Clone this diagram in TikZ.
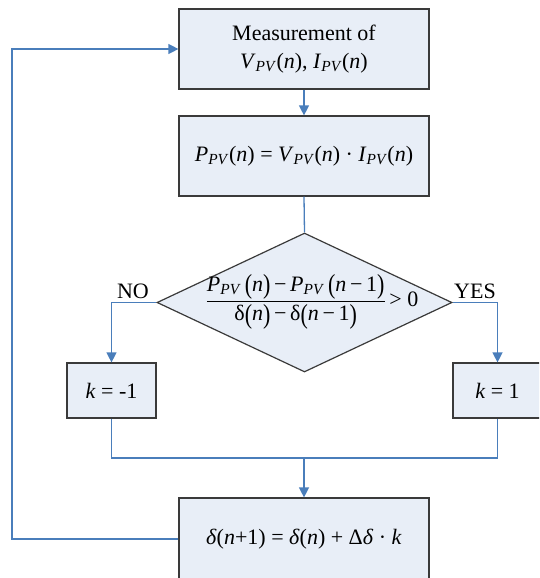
\documentclass[tikz,border=0pt]{standalone}
\usepackage{fontspec}
\setmainfont{Liberation Serif}
\usepackage{graphicx}
\usetikzlibrary{arrows.meta,shapes.geometric}
\definecolor{boxfill}{HTML}{E8EEF7}
\definecolor{linkblue}{HTML}{4A7EBB}
\definecolor{boxedge}{HTML}{3A3A3A}
\newcommand{\iv}[1]{\textit{#1}}
\newcommand{\PV}{\textsubscript{\textit{PV}}}
\newcommand{\tp}[1]{\raisebox{-0.12em}{\scalebox{1}[1.25]{#1}}}
\begin{document}
\begin{tikzpicture}[x=1pt,y=-1pt,
  stepbox/.style={draw=boxedge, line width=1.2pt, fill=boxfill, minimum width=250pt, minimum height=80pt, inner sep=0pt, font=\fontsize{22}{28}\selectfont, align=center},
  kbox/.style={stepbox, minimum width=89pt, minimum height=55pt},
  decbox/.style={diamond, draw=boxedge, line width=1.2pt, fill=boxfill, minimum width=295pt, minimum height=139pt, inner sep=0pt},
  link/.style={draw=linkblue, line width=1.3pt},
  arr/.style={link, -{Triangle[width=10pt,length=10pt]}},
  lbl/.style={font=\fontsize{22}{26}\selectfont}]
\clip (0,0) rectangle (539,578);
\node[stepbox] (m) at (304,49) {Measurement of\\ \iv{V}\PV(\iv{n}), \iv{I}\PV(\iv{n})};
\node[stepbox] (p) at (304,156) {\iv{P}\PV(\iv{n}) = \iv{V}\PV(\iv{n}) · \iv{I}\PV(\iv{n})};
\node[decbox] (d) at (304.5,302.5) {};
\node[lbl] (frac) at (312,302) {$\displaystyle\frac{\mbox{\iv{P}\PV\,\tp{(}\iv{n}\tp{)}\,−\,\iv{P}\PV\,\tp{(}\iv{n}\,−\,1\tp{)}}}{\mbox{δ\tp{(}\iv{n}\tp{)}\,−\,δ\tp{(}\iv{n}\,−\,1\tp{)}}}\mbox{\,> 0}$};
\node[lbl] (no) at (133,291) {NO};
\node[lbl] (yes) at (475,291) {YES};
\node[kbox] (kn) at (111.5,390.5) {\iv{k} = -1};
\node[kbox] (kp) at (497.5,390.5) {\iv{k} = 1};
\node[stepbox, minimum height=82pt] (u) at (304,539) {\iv{δ}(\iv{n}+1) = \iv{δ}(\iv{n}) + Δ\iv{δ} · \iv{k}};
\coordinate (mrg) at (304,458);
\coordinate (lp) at (12,49);
\draw[arr] (m.south) -- (p.north);
\draw[link] (p.south) -- (d.north);
\draw[arr] (d.west) -| (kn.north);
\draw[arr] (d.east) -| (kp.north);
\draw[link] (kn.south) |- (mrg) -| (kp.south);
\draw[arr] (mrg) -- (u.north);
\draw[arr] (u.west) -| (lp) -- (m.west);
\end{tikzpicture}
\end{document}
